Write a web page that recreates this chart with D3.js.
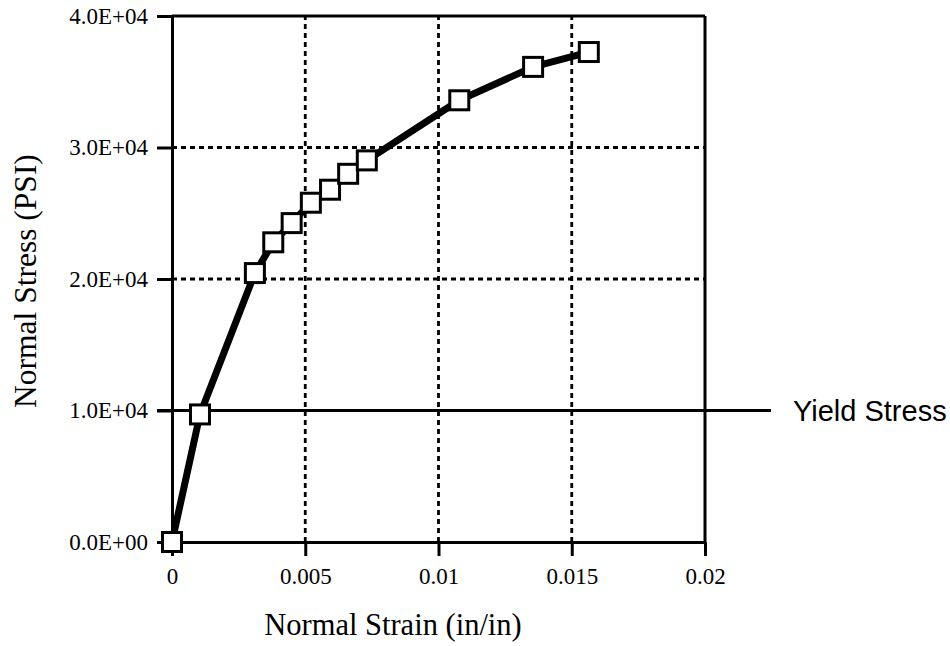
<!DOCTYPE html>
<html>
<head>
<meta charset="utf-8">
<script src="https://cdn.jsdelivr.net/npm/d3@7"></script>
<style>
  html, body { margin: 0; padding: 0; background: #fff; }
  svg { display: block; }
</style>
</head>
<body>
<svg id="chart" width="950" height="646"></svg>
<script>
// Stress–strain test readings
const strain = [0, 0.00105, 0.00311, 0.0038, 0.00449, 0.00521, 0.00593, 0.00661, 0.00731, 0.01078, 0.01355, 0.01564];
const stress = [0, 9700, 20450, 22790, 24250, 25800, 26790, 28000, 29020, 33590, 36130, 37260];
const yieldStress = 10000;

const xTicks = [0, 0.005, 0.01, 0.015, 0.02];
const xTickLabels = ["0", "0.005", "0.01", "0.015", "0.02"];
const yTicks = [0, 10000, 20000, 30000, 40000];
const yTickLabels = ["0.0E+00", "1.0E+04", "2.0E+04", "3.0E+04", "4.0E+04"];

const svg = d3.select("#chart");
const plotLeft = 172, plotRight = 705, plotTop = 16, plotBottom = 542;

const x = d3.scaleLinear().domain([0, 0.02]).range([plotLeft, plotRight]);
const y = d3.scaleLinear().domain([0, 40000]).range([plotBottom, plotTop]);

const serif = "'Liberation Serif', 'Times New Roman', serif";

// dashed grid
const grid = svg.append("g").attr("stroke", "#000").attr("stroke-width", 2.8)
  .attr("stroke-dasharray", "5,4").attr("fill", "none");
grid.selectAll("line.v").data(xTicks.filter(d => d > 0 && d < 0.02)).join("line")
  .attr("class", "v")
  .attr("x1", d => x(d)).attr("x2", d => x(d))
  .attr("y1", y(0)).attr("y2", y(40000));
grid.selectAll("line.h").data(yTicks.filter(d => d > yieldStress && d < 40000)).join("line")
  .attr("class", "h")
  .attr("x1", x(0)).attr("x2", x(0.02))
  .attr("y1", d => y(d)).attr("y2", d => y(d));

// frame (top and right)
svg.append("line").attr("x1", x(0)).attr("x2", x(0.02)).attr("y1", y(40000)).attr("y2", y(40000))
  .attr("stroke", "#000").attr("stroke-width", 3);
svg.append("line").attr("x1", x(0.02)).attr("x2", x(0.02)).attr("y1", y(0)).attr("y2", y(40000))
  .attr("stroke", "#000").attr("stroke-width", 3);

// axes
const xAxis = d3.axisBottom(x).tickValues(xTicks)
  .tickFormat((d, i) => xTickLabels[i]).tickSizeInner(14).tickSizeOuter(0).tickPadding(12);
const yAxis = d3.axisLeft(y).tickValues(yTicks)
  .tickFormat((d, i) => yTickLabels[i]).tickSizeInner(15).tickSizeOuter(0).tickPadding(9);

const gx = svg.append("g").attr("transform", `translate(0,${plotBottom})`).call(xAxis);
const gy = svg.append("g").attr("transform", `translate(${plotLeft},0)`).call(yAxis);
[gx, gy].forEach(g => {
  g.select(".domain").attr("stroke", "#000").attr("stroke-width", 3);
  g.selectAll(".tick line").attr("stroke", "#000").attr("stroke-width", 3);
  g.selectAll(".tick text").attr("fill", "#000")
    .style("font-family", serif).style("font-size", "23px");
});

// yield stress reference line
svg.append("line")
  .attr("x1", x(0) - 15).attr("x2", 771)
  .attr("y1", y(yieldStress)).attr("y2", y(yieldStress))
  .attr("stroke", "#000").attr("stroke-width", 3);
svg.append("text")
  .attr("x", 793).attr("y", y(yieldStress)).attr("dy", "0.35em")
  .style("font-family", "'Liberation Sans', Arial, sans-serif").style("font-size", "29px")
  .text("Yield Stress");

// curve
const pts = strain.map((s, i) => [s, stress[i]]);
svg.append("path").datum(pts)
  .attr("fill", "none").attr("stroke", "#000").attr("stroke-width", 7)
  .attr("stroke-linejoin", "round")
  .attr("d", d3.line().x(d => x(d[0])).y(d => y(d[1])));

// square markers
const m = 19;
svg.selectAll("rect.pt").data(pts).join("rect")
  .attr("class", "pt")
  .attr("x", d => x(d[0]) - m / 2).attr("y", d => y(d[1]) - m / 2)
  .attr("width", m).attr("height", m)
  .attr("fill", "#fff").attr("stroke", "#000").attr("stroke-width", 3);

// axis titles
svg.append("text")
  .attr("x", 393).attr("y", 635).attr("text-anchor", "middle")
  .style("font-family", serif).style("font-size", "30.5px")
  .text("Normal Strain (in/in)");
svg.append("text")
  .attr("transform", "translate(25,281) rotate(-90)")
  .attr("text-anchor", "middle").attr("dy", "0.35em")
  .style("font-family", serif).style("font-size", "31.5px")
  .text("Normal Stress (PSI)");
</script>
</body>
</html>
